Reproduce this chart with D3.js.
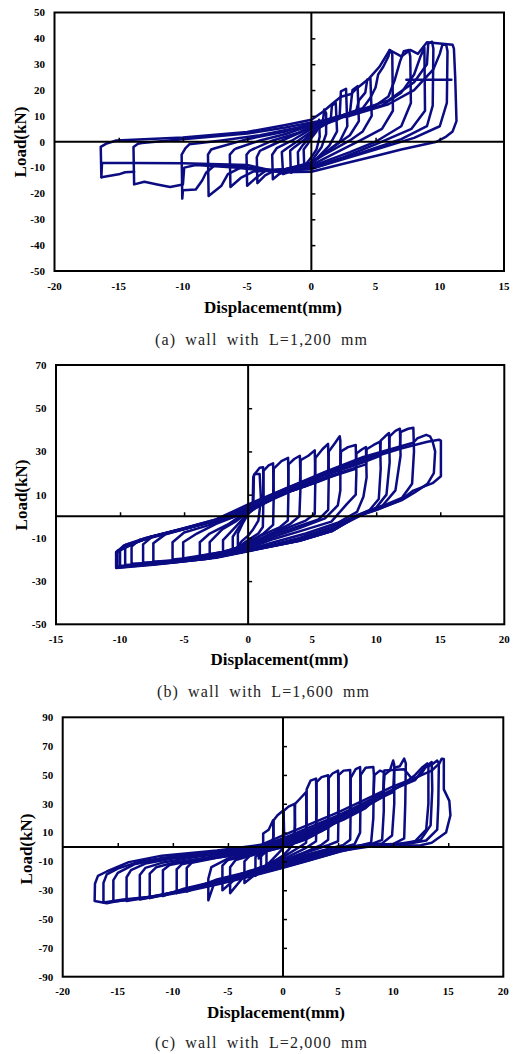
<!DOCTYPE html>
<html><head><meta charset="utf-8">
<script src="https://cdn.jsdelivr.net/npm/d3@7"></script>
<style>html,body{margin:0;padding:0;background:#fff;}svg{display:block;}</style>
</head><body>
<svg id="chart" width="514" height="1054"></svg>
<script>
// ---------- tick labels ----------
const xTicksA = [-20,-15,-10,-5,0,5,10,15];
const yTicksA = [-50,-40,-30,-20,-10,0,10,20,30,40,50];
const xTicksB = [-15,-10,-5,0,5,10,15,20];
const yTicksB = [-50,-30,-10,10,30,50,70];
const xTicksC = [-20,-15,-10,-5,0,5,10,15,20];
const yTicksC = [-90,-70,-50,-30,-10,10,30,50,70,90];
const captions = ["(a) wall with L=1,200 mm","(b) wall with L=1,600 mm","(c) wall with L=2,000 mm"];
const xTitle = "Displacement(mm)";
const yTitle = "Load(kN)";

// ---------- hysteresis cycles (displacement mm, load kN) ----------
const cyclesA = [
 [[-0.3,-1],[0,1.5],[0.4,4],[0.6,8.5],[0.65,2],[0.4,-3],[0,-6],[-0.4,-8.5],[-0.55,-10],[-0.6,-3],[-0.3,-1]],
 [[-0.7,-1.5],[0,2.5],[0.7,6],[0.9,8],[1.0,12.5],[1.15,11],[1.15,3],[0.8,-2],[0.3,-5.5],[0,-8],[-0.6,-10],[-1.0,-11.5],[-1.05,-4],[-0.7,-1.5]],
 [[-1.3,-2],[-0.5,1],[0,3.5],[1,6.5],[1.5,8],[1.6,14],[1.9,15],[2.0,4],[1.4,-1.5],[0.5,-6],[0,-8.5],[-1,-10.5],[-1.6,-12],[-1.65,-3.5],[-1.3,-2]],
 [[-1.9,-2.5],[-1,0.5],[0,4],[1.2,7],[2.2,9.5],[2.3,19.5],[2.7,20.5],[2.8,6],[2.2,0],[1,-4.5],[0,-8.5],[-1,-10.5],[-2.2,-12.5],[-2.3,-4],[-1.9,-2.5]],
 [[-2.7,-2.5],[-1.5,0.5],[0,5],[2,8.5],[3,11],[3.2,20],[3.6,21.5],[3.7,8],[3,2.5],[2,-1],[0,-8],[-1.5,-10.5],[-2.5,-12.5],[-3.0,-14.5],[-3.05,-5],[-2.7,-2.5]],
 [[-3.8,-3],[-2.5,0],[0,5.5],[2,9],[3.5,12],[3.7,16],[4.2,19],[4.35,24],[4.6,24.5],[4.7,10],[4,4],[3,0.5],[1,-5],[0,-8],[-2,-10.5],[-3,-11.5],[-3.6,-13],[-4.2,-16],[-4.25,-6],[-4,-3.5],[-3.8,-3]],
 [[-4.6,-3],[-3,0.5],[-1,3.5],[0,6],[2,9.5],[4,13],[4.6,17],[5.0,21],[5.2,26],[5.6,29],[6.0,33],[6.1,35.5],[6.3,34],[6.35,12],[5.5,5],[4,1],[2,-4],[0,-9],[-2,-10.5],[-3.5,-11],[-4.2,-13.5],[-5,-17],[-5.05,-5],[-4.8,-3.5],[-4.6,-3]],
 [[-5.8,-2.5],[-4,0.5],[-2,3],[0,6.5],[2.5,10],[5,14],[6,17.5],[6.5,24],[6.9,31],[7.2,35],[7.6,35.5],[7.7,33],[7.75,15],[7,6],[5,0],[3,-4],[0,-9.5],[-2.5,-11],[-4.5,-11.5],[-5.5,-14],[-6.3,-17.5],[-6.35,-5],[-6,-3],[-5.8,-2.5]],
 [[-7.5,-2.5],[-5,1],[-2,4],[0,7],[3,10.5],[5.5,14],[7,19],[8,26],[8.5,33],[8.8,36.5],[8.85,12],[7.8,5],[5,-1],[2.5,-6],[0,-10],[-3,-11],[-5.5,-10],[-6.5,-12.5],[-7,-17],[-8,-21],[-8.05,-5],[-7.8,-3],[-7.5,-2.5]],
 [[-9.5,-1],[-7,0.5],[-4,2.5],[-1,5.5],[0,7],[3,11],[6,16],[8,23],[9,30],[9.1,38],[9.4,38.7],[9.5,36],[9.45,14],[9,6],[7,1],[4,-4],[0,-10.5],[-3,-11],[-6,-9.5],[-7.5,-9],[-8.2,-12],[-8.5,-15],[-9,-18.5],[-10,-18.8],[-10.05,-22],[-10.1,-5],[-9.8,-2.5],[-9.5,-1]],
 [[-13.2,-0.5],[-10,1],[-5,3.2],[-2,5.5],[0,7.5],[3,10],[6,14.5],[8,20],[9.5,28],[10,34],[10.2,37.5],[10.5,37.5],[10.6,35],[10.55,15],[10,6],[8,1.5],[5,-3],[2,-7.5],[0,-10.5],[-3,-11.5],[-6,-10],[-9,-9],[-9.9,-10],[-10,-16.5],[-11,-17.5],[-12,-16.5],[-13,-15.5],[-13.8,-16.5],[-13.85,-2],[-13.5,-0.8],[-13.2,-0.5]],
 [[-15.2,0.5],[-10,1.6],[-5,3.8],[-2,6.5],[0,8.5],[0.9,11.6],[1.7,15],[2.3,17.4],[3.1,18.5],[3.5,20.5],[4.5,24.5],[5.3,29],[6.1,35.5],[7.0,33],[7.7,35.5],[8.3,34],[9,38.5],[10,38],[11.0,37.5],[11.1,36],[11.2,25],[11.3,8],[11,4],[10.5,2],[9.75,0],[7,-3],[5.3,-5.1],[2.5,-8.5],[0,-11.6],[-2.5,-11.8],[-5,-9],[-10,-8.3],[-13.8,-8.2],[-16.3,-8.1],[-16.35,-13.7],[-16.4,-2],[-16,-0.8],[-15.2,0.5]],
 [[-16.35,-13.7],[-15,-12.6],[-14.5,-11.8],[-13.8,-11.6]],
 [[7.4,24],[10.9,24]]
];

const cyclesB = [
 [[-0.8,-8],[-0.4,-3],[0,1],[0.35,3],[0.4,18],[0.5,19.5],[0.9,19.5],[1.0,8],[0.8,-2],[0.4,-6],[0,-9],[-0.5,-11.5],[-0.8,-14],[-0.8,-8]],
 [[-1.2,-9.5],[-0.6,-4],[0,1.5],[0.4,4],[0.45,19],[0.9,22.5],[1.17,22.7],[1.2,10],[1.15,-5],[0.8,-8],[0,-11],[-0.6,-13.5],[-1.2,-16],[-1.2,-9.5]],
 [[-1.96,-11],[-1,-5],[0,1.5],[1.17,6],[1.2,21],[1.6,23.5],[1.95,24.5],[2.0,10],[1.95,-4],[1.2,-8],[0,-12],[-1,-15],[-1.96,-17],[-1.96,-11]],
 [[-3.0,-12],[-2,-6],[-1,-2.5],[0,2],[1.95,8],[2.0,22],[2.6,25.5],[3.12,27],[3.15,12],[3.1,-2],[2.5,-5],[1,-9],[0,-12.5],[-1.5,-16],[-3.0,-18],[-3.0,-12]],
 [[-3.77,-12],[-3,-8],[-1.5,-3.5],[0,2.5],[2,8],[3.12,11],[3.15,24],[3.6,26.5],[4.04,28],[4.1,15],[4.0,0],[3.3,-3.5],[2,-7.5],[0,-13],[-2,-16.5],[-3.77,-18.5],[-3.77,-12]],
 [[-5.07,-12],[-4,-8],[-2.5,-3.5],[-1,0],[0,3],[2,9],[4.04,13],[4.1,26],[4.7,28],[5.2,30.5],[5.25,18],[5.2,1],[4.5,-2],[3,-5.5],[1.5,-9],[0,-13.5],[-2,-16.5],[-4,-18.5],[-5.07,-19.5],[-5.07,-12]],
 [[-5.9,-12],[-5,-7.5],[-3,-4],[-1,0],[0,3.5],[2.5,10],[4.5,14],[5.2,16],[5.25,27],[5.8,31],[6.24,33.5],[6.3,20],[6.25,3],[5.5,-1.5],[4,-4.5],[2,-8.5],[0,-14],[-2,-17],[-4,-19],[-5.9,-20],[-5.9,-12]],
 [[-7.4,-12.5],[-6.5,-8.5],[-4.5,-5],[-2.5,-2],[-1,0.5],[0,4],[3,11],[5,15],[6.24,18],[6.3,30],[6.8,34],[7.15,37],[7.2,35],[7.2,12],[7.0,5],[6,-1],[4,-5.5],[2,-9.5],[0,-14.5],[-2.5,-18],[-5,-20],[-7.4,-21],[-7.4,-12.5]],
 [[-8.2,-13],[-7.5,-9.5],[-5,-5.8],[-2.5,-2],[0,4],[3,11],[5.5,16],[7.2,20],[7.25,30],[7.8,32],[8.4,33],[8.45,20],[8.4,10],[7.7,5.6],[6.5,-2.5],[4,-7],[2,-10.5],[0,-15],[-2.5,-18.5],[-5.5,-20.5],[-8.2,-21.5],[-8.2,-13]],
 [[-9.1,-14],[-8.5,-11],[-7.5,-9.5],[-5,-5.8],[-2.5,-2],[0,4],[3,11],[6,17.5],[8.4,22],[8.45,29],[8.9,31],[9.2,32],[9.25,18],[9,9],[8.5,2],[7,-3],[4.5,-8],[2,-12],[0,-15.5],[-3,-19],[-6,-21],[-9.1,-22],[-9.1,-14]],
 [[-9.6,-14.5],[-9,-12.5],[-7.7,-9.7],[-5,-5.8],[-2.5,-2],[0,4.2],[3,11.5],[6,18],[9.2,24],[9.25,31],[9.8,33],[10.3,34.5],[10.35,22],[10.2,8],[9.5,3],[8,-1],[6.5,-5],[4,-10],[2,-13],[0,-16],[-3,-19.5],[-6,-21.5],[-9.6,-22.5],[-9.6,-14.5]],
 [[-10.0,-15.5],[-9,-12.8],[-7.7,-9.7],[-5,-5.8],[-2.5,-2],[0,4.5],[3,12],[6,19],[9,25],[10.3,28],[10.35,35],[10.7,37],[11.0,38.5],[11.05,25],[10.8,10],[10,4],[8.5,0],[6.6,-6.7],[4,-11.4],[0,-16],[-2.5,-19],[-7,-21.5],[-10.0,-23],[-10.0,-15.5]],
 [[-10.2,-16],[-9,-12.5],[-7.5,-9.5],[-5,-5.5],[-2.5,-1.5],[0,5],[3,12.5],[6,19.5],[9,26],[11,30],[11.05,37],[11.5,39.5],[11.85,40.5],[11.9,28],[11.5,12],[10.5,5],[9,1],[7,-5],[4,-11],[0,-16],[-3,-19.5],[-7,-22],[-10.2,-23.5],[-10.2,-16]],
 [[-10.3,-16.5],[-9.5,-13],[-8,-10],[-5,-5.5],[-2.5,-1.5],[0,5.5],[3,13],[6,20],[9,27],[11.85,32],[11.9,39],[12.5,40.5],[12.9,41],[12.95,30],[12.8,15],[12,8.5],[10,3.5],[8.5,0.5],[6.6,-6],[4,-11],[0,-16],[-2.5,-19],[-7,-22],[-10.3,-23.8],[-10.3,-16.5]],
 [[-10.3,-17],[-9.7,-13.5],[-8,-10.5],[-5,-6],[-2.5,-2],[0,5],[3,13],[6,20.5],[9,27.5],[12,32.5],[12.9,34],[13.2,36],[13.9,37.7],[14.2,37],[14.4,34.6],[14.6,30],[14.5,20],[14,15],[13,11],[12,7.5],[10,3],[8.5,0],[6.6,-6.7],[4,-11.4],[0,-16],[-2.5,-19],[-7.2,-22],[-10.3,-23.5],[-10.3,-17]],
 [[-10.3,-16.7],[-9,-12.8],[-7.7,-9.7],[-5,-5.8],[-2.5,-2],[0,4.2],[3,12],[6,19.5],[9,26],[12,31.5],[14,34.5],[14.9,35.4],[15.05,35],[15.05,18.5],[14.4,15.3],[12.9,11.9],[11.85,7.2],[10,2.9],[8.5,0],[6.6,-6.7],[4,-11.4],[0,-16.2],[-2.5,-19.2],[-7.2,-22.3],[-10.3,-24],[-10.3,-16.7]]
];

const cyclesC = [
 [[-2.2,-2],[-1.8,1],[-1.8,9.3],[-1.3,12],[-0.9,18.5],[-0.85,8],[-1,2],[-1.3,-2],[-1.8,-5],[-2.2,-8],[-2.2,-2]],
 [[-1.5,-3],[-1.2,0],[-0.9,3],[-0.85,18.5],[-0.5,22],[0.05,25.5],[0.1,10],[0,-1],[-0.5,-5],[-1,-9],[-1.5,-13],[-1.5,-3]],
 [[-2,-5],[-1.5,-2],[-0.5,1],[0,4],[0.05,25],[0.5,28],[1.05,30],[1.1,15],[1.0,3],[0.5,-2],[0,-6],[-1,-11],[-2,-17],[-2,-5]],
 [[-2.5,-7],[-2,-3.5],[-1,-1],[0,2],[1.05,6],[1.1,30],[1.6,34],[2.1,38],[2.15,20],[2.1,3],[1.5,0],[0,-7],[-1.5,-12],[-2.5,-20],[-2.5,-7]],
 [[-3.5,-10],[-3,-6],[-1.5,-2.5],[0,0.5],[1.5,4],[2.1,7],[2.15,40],[2.5,46],[3.0,47.5],[3.05,25],[3.0,4],[2,-1],[0,-8.5],[-1.5,-13],[-3.5,-25],[-3.5,-10]],
 [[-4.8,-14],[-4.3,-9],[-2.5,-5],[-1,-2],[0,0],[2,5],[3,9],[3.05,45],[3.5,48.5],[4.1,49.8],[4.15,30],[4.1,5],[3.5,1.5],[2,-3.5],[0,-9.5],[-2,-14],[-3.5,-20],[-4.8,-32],[-4.8,-14]],
 [[-5.5,-13],[-5,-9],[-3,-5.5],[-1,-2],[0,0],[2,5.5],[3.5,11],[4.1,14],[4.15,48],[4.5,51],[5.0,53],[5.05,30],[5,4],[4,1],[2,-4],[0,-10],[-2,-14],[-4,-20],[-5.5,-30],[-5.5,-13]],
 [[-6.78,-22],[-6.5,-14],[-5,-8],[-3,-5],[-1,-1.5],[0,0.5],[2,6],[4,13],[5,18],[5.05,50],[5.5,53],[6.1,53.5],[6.15,30],[6.1,5],[5.5,1.5],[4,-1.5],[2,-5.5],[0,-10.5],[-3,-16.5],[-5,-22],[-6.2,-24],[-6.78,-37],[-6.78,-22]],
 [[-8.74,-14.5],[-8.3,-11],[-6,-7.5],[-3,-4],[-1,-1],[0,1],[2,7],[4,14],[5.5,20],[6.1,24],[6.15,48],[6.6,54],[7.0,55.5],[7.05,40],[7.0,10],[6.5,2],[5,-1],[3,-4.5],[0,-11],[-3,-17],[-6,-22.5],[-8.74,-31],[-8.74,-14.5]],
 [[-9.65,-15.5],[-9.2,-12],[-7,-8.5],[-4,-5],[-1,-1],[0,1.5],[2,8],[4.5,16],[6.5,24],[7,27],[7.05,50],[7.5,55],[8.2,55.5],[8.25,50],[8.2,20],[8,3],[7,1],[5,-1.5],[3,-5],[0,-11.5],[-3,-17.5],[-6,-23],[-9.65,-32],[-9.65,-15.5]],
 [[-10.9,-16.2],[-10.3,-12.5],[-8,-9],[-5,-5.5],[-2,-1.5],[0,2.5],[3,11],[5.5,19],[7.5,27],[8.2,32],[8.3,50],[8.8,53],[9.15,52],[9.15,25],[9,5],[8,2],[6,0],[4,-4],[2,-8],[0,-12],[-3,-18],[-6,-23.5],[-9,-29],[-10.9,-34],[-10.9,-16.2]],
 [[-12.1,-18.5],[-11.5,-14],[-10,-11],[-7,-7.5],[-4,-4],[-1,0],[0,3],[3,12],[6,22],[8,30],[9.1,35],[9.2,50],[9.7,53],[10,60],[10.1,57],[10.1,30],[9.9,8],[9,2.5],[7,1],[5,-2.5],[2.5,-8],[0,-12.5],[-3,-18.5],[-6,-24],[-9,-29.5],[-12.1,-35.5],[-12.1,-18.5]],
 [[-13,-19.5],[-12.5,-14.5],[-11,-11],[-8,-7],[-5,-4],[-2,-0.5],[0,4],[3,13],[6,24],[8,31],[10,38],[10.1,55],[10.6,56],[11.0,61.3],[11.15,58],[11.1,30],[11,6],[10,2],[7,0.5],[5,-3],[2.5,-8.5],[0,-13],[-3,-19],[-6,-24.5],[-9,-30],[-13,-36.5],[-13,-19.5]],
 [[-14.2,-21],[-13.8,-16],[-12.5,-11.5],[-10,-8],[-6,-4.5],[-3,-1.5],[0,3.5],[3,13],[6,23],[9,35],[11,44],[12,50],[12.6,55],[13.1,58],[13.2,57],[13.2,30],[13,12],[12,4],[10,1.5],[7,0],[5,-3.5],[2,-10],[0,-14],[-3,-20],[-6,-25],[-10,-32],[-14.2,-37.5],[-14.2,-21]],
 [[-15.4,-23],[-15,-18],[-13.5,-12],[-11,-8],[-7,-4],[-3,-0.5],[0,5],[3,14],[6,25],[8,33],[9.1,38],[9.2,53],[11,54],[11.8,46.5],[12.5,50],[13.0,56],[13.5,59],[13.55,40],[13.4,15],[12.5,5],[11,2],[8,0.5],[5,-3],[2,-9],[0,-13.5],[-3,-19.5],[-6,-25],[-9,-30],[-12,-34.5],[-15.4,-38],[-15.4,-23]],
 [[-16.3,-25],[-16,-19],[-15,-15],[-13,-10],[-10,-6.5],[-6,-3],[-2,0.5],[0,6],[2.5,14],[5,22],[7.5,31],[10,40],[12,46.5],[12.8,55],[13.5,57],[14.0,60],[14.15,58],[14.1,30],[14.0,12],[13,4.5],[11.5,2.5],[8,1.5],[5,-2.5],[2.5,-8],[0,-14],[-3,-20],[-6,-25.5],[-9,-30.5],[-12,-34.5],[-14.5,-36.5],[-16.3,-38.5],[-16.3,-25]],
 [[-17.07,-25.5],[-16.8,-20],[-16,-17],[-14,-10.5],[-11,-6],[-6,-2.5],[-2,1.5],[0,8],[2.5,16],[5,24],[7.5,33],[10,42],[12,48],[13.5,53],[14.2,58],[14.4,61.3],[14.6,61],[14.6,40],[15.1,32],[15.2,22],[14.8,10],[13.5,3],[12.5,1.2],[8,0.8],[6,-0.5],[5,-3.5],[2.5,-9],[0,-14.5],[-3,-20.5],[-6,-26],[-9,-31],[-12,-35],[-15,-37.5],[-16,-39],[-17.1,-37.5],[-17.07,-25.5]]
];

// ---------- layout ----------
const panels = [
 {box:[54.5,504,12.5,271], xd:[-20,15], yd:[-50,50], xt:xTicksA, yt:yTicksA, data:cyclesA,
  cap:captions[0], capX:261, capY:345, xtX:273, xtY:313, ytX:20, ytY:142},
 {box:[56,504.3,365,624.3], xd:[-15,20], yd:[-50,70], xt:xTicksB, yt:yTicksB, data:cyclesB,
  cap:captions[1], capX:263, capY:697, xtX:279.5, xtY:665, ytX:21.5, ytY:495},
 {box:[62.7,503.3,717.3,976.7], xd:[-20,20], yd:[-90,90], xt:xTicksC, yt:yTicksC, data:cyclesC,
  cap:captions[2], capX:261, capY:1048, xtX:276, xtY:1018, ytX:26.5, ytY:849}
];

const svg = d3.select("#chart");
const LINE = "#0b0b82";

panels.forEach(p => {
  const [l,r,t,b] = p.box;
  const x = d3.scaleLinear().domain(p.xd).range([l,r]);
  const y = d3.scaleLinear().domain(p.yd).range([b,t]);
  const g = svg.append("g");

  // data
  const line = d3.line().x(d => x(d[0])).y(d => y(d[1]));
  g.append("g").selectAll("path").data(p.data).join("path")
    .attr("d", line).attr("fill","none").attr("stroke",LINE)
    .attr("stroke-width",2.5).attr("stroke-linejoin","round").attr("stroke-linecap","round");

  // zero lines
  g.append("line").attr("x1",l).attr("x2",r).attr("y1",y(0)).attr("y2",y(0))
    .attr("stroke","#000").attr("stroke-width",2);
  g.append("line").attr("x1",x(0)).attr("x2",x(0)).attr("y1",t).attr("y2",b)
    .attr("stroke","#000").attr("stroke-width",2);

  // interior ticks on zero lines
  const innerY = p.yt.filter(v => v !== 0 && v !== p.yd[0] && v !== p.yd[1]);
  const innerX = p.xt.filter(v => v !== 0 && v !== p.xd[0] && v !== p.xd[1]);
  g.append("g").attr("transform",`translate(${x(0)},0)`)
    .call(d3.axisRight(y).tickValues(innerY).tickSize(4).tickFormat(""))
    .call(s => s.select(".domain").remove())
    .selectAll("line").attr("stroke","#000").attr("stroke-width",1.5);
  g.append("g").attr("transform",`translate(0,${y(0)})`)
    .call(d3.axisTop(x).tickValues(innerX).tickSize(4).tickFormat(""))
    .call(s => s.select(".domain").remove())
    .selectAll("line").attr("stroke","#000").attr("stroke-width",1.5);

  // frame
  g.append("rect").attr("x",l).attr("y",t).attr("width",r-l).attr("height",b-t)
    .attr("fill","none").attr("stroke","#000").attr("stroke-width",2);

  // tick labels
  const tf = {"font-family":"'Liberation Serif','Times New Roman',serif","font-weight":"bold","font-size":"11px","fill":"#000"};
  g.append("g").selectAll("text").data(p.yt).join("text")
    .attr("x", l-9.5).attr("y", d => y(d)).attr("dy","0.35em").attr("text-anchor","end")
    .text(d => String(d)).each(function(){ for (const k in tf) d3.select(this).attr(k, tf[k]); });
  g.append("g").selectAll("text").data(p.xt).join("text")
    .attr("x", d => x(d)).attr("y", b+18.5).attr("text-anchor","middle")
    .text(d => String(d)).each(function(){ for (const k in tf) d3.select(this).attr(k, tf[k]); });

  // axis titles
  g.append("text").attr("x",p.xtX).attr("y",p.xtY).attr("text-anchor","middle")
    .attr("font-family","'Liberation Serif','Times New Roman',serif").attr("font-weight","bold")
    .attr("font-size","17px").text(xTitle);
  g.append("text").attr("transform",`translate(${p.ytX},${p.ytY}) rotate(-90)`)
    .attr("text-anchor","middle").attr("dy","0.35em")
    .attr("font-family","'Liberation Serif','Times New Roman',serif").attr("font-weight","bold")
    .attr("font-size","17px").text(yTitle);

  // caption
  g.append("text").attr("x",p.capX).attr("y",p.capY).attr("text-anchor","middle")
    .attr("font-family","'Liberation Serif','DejaVu Serif',serif").attr("font-size","16px")
    .attr("fill","#222").attr("textLength",212).attr("lengthAdjust","spacing")
    .attr("word-spacing","4px").text(p.cap);
});
</script>
</body></html>
